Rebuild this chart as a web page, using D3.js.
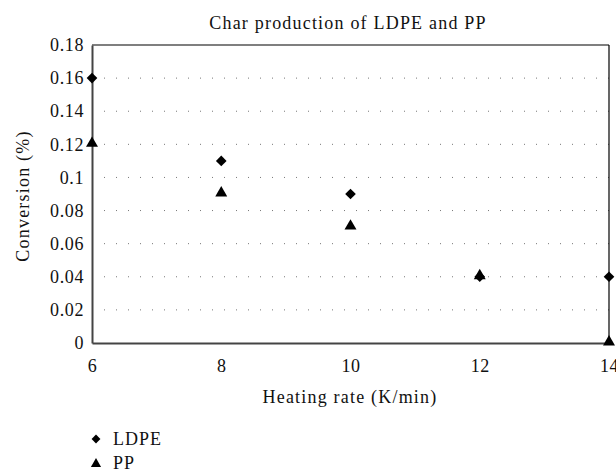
<!DOCTYPE html>
<html><head><meta charset="utf-8">
<script src="https://cdn.jsdelivr.net/npm/d3@7"></script>
<style>body{margin:0;background:#fff}</style>
</head><body>
<svg id="c" width="616" height="474"></svg>
<script>
const xValues = [6, 8, 10, 12, 14];
const ldpe = [0.16, 0.11, 0.09, 0.04, 0.04];
const pp = [0.12, 0.09, 0.07, 0.04, 0.0];
const xTicks = [6, 8, 10, 12, 14];
const yTicks = [0, 0.02, 0.04, 0.06, 0.08, 0.1, 0.12, 0.14, 0.16, 0.18];
const seriesNames = ["LDPE", "PP"];

const FS = 18;
const FONT = "'Liberation Serif', 'Times New Roman', serif";
const svg = d3.select("#c");
const L = 92, R = 609, T = 45, B = 343;
const x = d3.scaleLinear().domain([6, 14]).range([L, R]);
const y = d3.scaleLinear().domain([0, 0.18]).range([B, T]);

function styleText(sel, ls) {
  sel.style("font-family", FONT).attr("font-size", FS).attr("fill", "#111").style("letter-spacing", (ls || 0.6) + "px");
}

// gridlines
svg.append("g").selectAll("line").data(yTicks.filter(d => d > 0 && d < 0.18)).join("line")
  .attr("x1", L + 12).attr("x2", R).attr("y1", d => y(d)).attr("y2", d => y(d))
  .attr("stroke", "#777").attr("stroke-width", 1).attr("stroke-dasharray", "1,11");

// frame top/right
svg.append("line").attr("x1", L).attr("x2", R).attr("y1", T).attr("y2", T).attr("stroke", "#000").attr("stroke-width", 1.2);
svg.append("line").attr("x1", R).attr("x2", R).attr("y1", T).attr("y2", B).attr("stroke", "#000").attr("stroke-width", 1.2);

// axes
const yAxis = d3.axisLeft(y).tickValues(yTicks).tickSize(0).tickPadding(8).tickFormat(d => d === 0 ? "0" : String(+d.toFixed(2)));
const gy = svg.append("g").attr("transform", `translate(${L},0)`).call(yAxis);
gy.attr("font-family", null).attr("font-size", null);
gy.select(".domain").attr("stroke", "#444").attr("stroke-width", 2);
styleText(gy.selectAll("text"));

const xAxis = d3.axisBottom(x).tickValues(xTicks).tickSize(0).tickPadding(16).tickFormat(d3.format("d"));
const gx = svg.append("g").attr("transform", `translate(0,${B})`).call(xAxis);
gx.attr("font-family", null).attr("font-size", null);
gx.select(".domain").attr("stroke", "#444").attr("stroke-width", 2);
styleText(gx.selectAll("text"));

// titles
styleText(svg.append("text").attr("x", 348).attr("y", 29).attr("text-anchor", "middle").text("Char production of LDPE and PP"), 1.2);
styleText(svg.append("text").attr("x", 350).attr("y", 403).attr("text-anchor", "middle").text("Heating rate (K/min)"), 1.2);
styleText(svg.append("text").attr("transform", "translate(29,196) rotate(-90)").attr("text-anchor", "middle").text("Conversion (%)"), 1.2);

const diamond = d3.symbol().type(d3.symbolDiamond2).size(72);
const tri = d3.symbol().type(d3.symbolTriangle).size(62);

svg.append("g").selectAll("path").data(xValues.map((v, i) => [v, ldpe[i]])).join("path")
  .attr("d", diamond).attr("transform", d => `translate(${x(d[0])},${y(d[1])})`).attr("fill", "#000");
svg.append("g").selectAll("path").data(xValues.map((v, i) => [v, pp[i]])).join("path")
  .attr("d", tri).attr("transform", d => `translate(${x(d[0])},${y(d[1]) - 1})`).attr("fill", "#000");

// legend
const lg = svg.append("g");
lg.append("path").attr("d", d3.symbol().type(d3.symbolDiamond2).size(50)).attr("transform", "translate(96,439)").attr("fill", "#000");
styleText(lg.append("text").attr("x", 113).attr("y", 445).text(seriesNames[0]), 1);
lg.append("path").attr("d", d3.symbol().type(d3.symbolTriangle).size(45)).attr("transform", "translate(96,464)").attr("fill", "#000");
styleText(lg.append("text").attr("x", 113).attr("y", 469).text(seriesNames[1]), 1);
</script>
</body></html>
